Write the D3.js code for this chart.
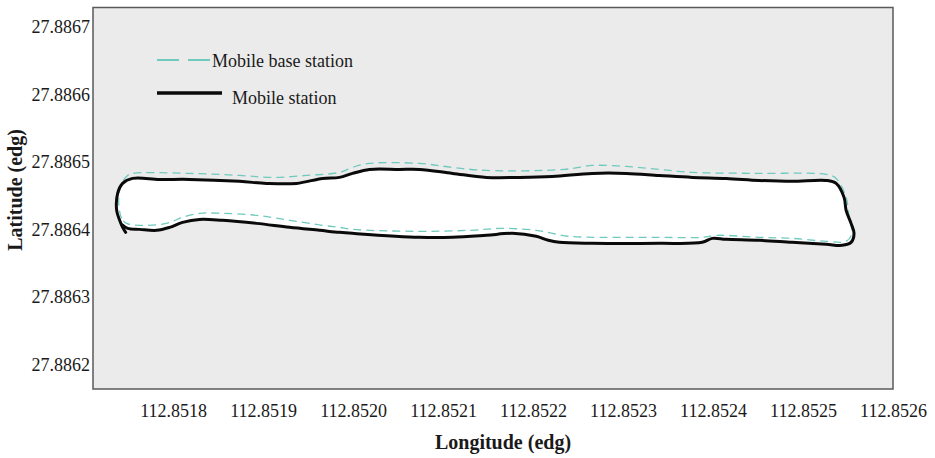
<!DOCTYPE html>
<html>
<head>
<meta charset="utf-8">
<script src="https://cdn.jsdelivr.net/npm/d3@7"></script>
<style>
  html, body { margin: 0; padding: 0; background: #ffffff; }
  svg { display: block; }
  text { font-family: "Liberation Serif", "Times New Roman", serif; fill: #1a1a1a; }
</style>
</head>
<body>
<svg id="chart" width="935" height="458"></svg>
<script>
// Track of the mobile station (solid black), in degrees
const stationLon = [
  112.8517473, 112.8517439, 112.8517406, 112.8517373, 112.8517384, 112.8517439,
  112.8517550, 112.8517850, 112.8518183, 112.8518738, 112.8519038, 112.8519371,
  112.8519660, 112.8519849, 112.8519993, 112.8520182, 112.8520515, 112.8520737,
  112.8521104, 112.8521481, 112.8521848, 112.8522214, 112.8522658, 112.8523036,
  112.8523402, 112.8523769, 112.8524146, 112.8524513, 112.8524879, 112.8525257,
  112.8525368, 112.8525456, 112.8525479, 112.8525534, 112.8525567, 112.8525534,
  112.8525434, 112.8525257, 112.8524879, 112.8524513, 112.8524146, 112.8523991,
  112.8523880, 112.8523402, 112.8522658, 112.8522292, 112.8522170, 112.8522036,
  112.8521770, 112.8521481, 112.8521104, 112.8520737, 112.8519993, 112.8519849,
  112.8519627, 112.8519294, 112.8518927, 112.8518550, 112.8518294, 112.8518105,
  112.8517961, 112.8517817, 112.8517628, 112.8517495, 112.8517428
];
const stationLat = [
  27.8863960, 27.8864034, 27.8864138, 27.8864286, 27.8864537, 27.8864685,
  27.8864759, 27.8864744, 27.8864744, 27.8864715, 27.8864685, 27.8864685,
  27.8864759, 27.8864774, 27.8864833, 27.8864892, 27.8864892, 27.8864892,
  27.8864833, 27.8864774, 27.8864774, 27.8864788, 27.8864833, 27.8864833,
  27.8864803, 27.8864774, 27.8864759, 27.8864729, 27.8864715, 27.8864729,
  27.8864685, 27.8864478, 27.8864286, 27.8864093, 27.8863945, 27.8863812,
  27.8863768, 27.8863783, 27.8863812, 27.8863842, 27.8863857, 27.8863871,
  27.8863812, 27.8863797, 27.8863797, 27.8863812, 27.8863842, 27.8863901,
  27.8863945, 27.8863916, 27.8863886, 27.8863886, 27.8863945, 27.8863960,
  27.8863990, 27.8864034, 27.8864093, 27.8864138, 27.8864152, 27.8864108,
  27.8864034, 27.8863990, 27.8864004, 27.8864019, 27.8864078
];

// Track of the mobile base station (dashed teal), closed loop
const baseLon = [
  112.8517484, 112.8517428, 112.8517395, 112.8517428, 112.8517495, 112.8517550,
  112.8518183, 112.8518738, 112.8519105, 112.8519482, 112.8519849, 112.8519993,
  112.8520182, 112.8520737, 112.8521104, 112.8521481, 112.8522347, 112.8522658,
  112.8523036, 112.8523402, 112.8523769, 112.8524513, 112.8525257, 112.8525368,
  112.8525479, 112.8525512, 112.8525545, 112.8525479, 112.8525257, 112.8524879,
  112.8524513, 112.8524035, 112.8523880, 112.8523402, 112.8522403, 112.8522214,
  112.8522036, 112.8521659, 112.8521292, 112.8520737, 112.8519993, 112.8519849,
  112.8519660, 112.8519294, 112.8518927, 112.8518550, 112.8518294, 112.8518105,
  112.8517928, 112.8517628
];
const baseLat = [
  27.8864093, 27.8864167, 27.8864433, 27.8864685, 27.8864803, 27.8864833,
  27.8864833, 27.8864803, 27.8864774, 27.8864803, 27.8864848, 27.8864922,
  27.8864981, 27.8864981, 27.8864922, 27.8864877, 27.8864892, 27.8864951,
  27.8864936, 27.8864892, 27.8864848, 27.8864833, 27.8864818, 27.8864759,
  27.8864478, 27.8864182, 27.8863945, 27.8863827, 27.8863827, 27.8863871,
  27.8863886, 27.8863916, 27.8863886, 27.8863886, 27.8863901, 27.8863945,
  27.8863990, 27.8864019, 27.8863990, 27.8863975, 27.8864004, 27.8864034,
  27.8864064, 27.8864138, 27.8864212, 27.8864241, 27.8864241, 27.8864182,
  27.8864093, 27.8864064
];

const lonTicks = [112.8518, 112.8519, 112.8520, 112.8521, 112.8522, 112.8523, 112.8524, 112.8525, 112.8526];
const latTicks = [27.8862, 27.8863, 27.8864, 27.8865, 27.8866, 27.8867];
const seriesNames = ["Mobile base station", "Mobile station"];
const xTitle = "Longitude (edg)";
const yTitle = "Latitude (edg)";

const svg = d3.select("#chart");
const margin = { left: 93, top: 7.5, right: 935 - 893, bottom: 458 - 389 };
const W = 935 - margin.left - margin.right;
const H = 458 - margin.top - margin.bottom;

const x = d3.scaleLinear().domain([112.851711, 112.8526]).range([0, W]);
const y = d3.scaleLinear().domain([27.886164, 27.886729]).range([H, 0]);

const g = svg.append("g").attr("transform", `translate(${margin.left},${margin.top})`);

// plot panel
g.append("rect").attr("width", W).attr("height", H).attr("fill", "#ebebeb");

const station = stationLon.map((d, i) => [d, stationLat[i]]);
const base = baseLon.map((d, i) => [d, baseLat[i]]);

// interior of the station loop
g.append("path")
  .attr("d", d3.line().x(d => x(d[0])).y(d => y(d[1])).curve(d3.curveCatmullRomClosed)(station.slice(1)))
  .attr("fill", "#ffffff")
  .attr("stroke", "none");

g.append("path")
  .attr("d", d3.line().x(d => x(d[0])).y(d => y(d[1])).curve(d3.curveCatmullRomClosed)(base))
  .attr("fill", "none")
  .attr("stroke", "#6fcabd")
  .attr("stroke-width", 1.3)
  .attr("stroke-dasharray", "8,5");

g.append("path")
  .attr("d", d3.line().x(d => x(d[0])).y(d => y(d[1])).curve(d3.curveCatmullRom)(station))
  .attr("fill", "none")
  .attr("stroke", "#0a0a0a")
  .attr("stroke-width", 3)
  .attr("stroke-linejoin", "round")
  .attr("stroke-linecap", "round");

// panel border
g.append("rect").attr("width", W).attr("height", H)
  .attr("fill", "none").attr("stroke", "#5a5a5a").attr("stroke-width", 1.5);

// axes
const fmt = d3.format(".4f");
const xAxis = g.append("g").attr("transform", `translate(0,${H})`)
  .call(d3.axisBottom(x).tickValues(lonTicks).tickFormat(fmt).tickSize(0).tickPadding(15));
const yAxis = g.append("g")
  .call(d3.axisLeft(y).tickValues(latTicks).tickFormat(fmt).tickSize(0).tickPadding(3));
[xAxis, yAxis].forEach(a => {
  a.select(".domain").remove();
  a.selectAll("text")
    .style("font-family", "'Liberation Serif', 'Times New Roman', serif")
    .style("font-size", "18px")
    .attr("fill", "#1a1a1a");
});

// axis titles
svg.append("text")
  .attr("x", 503).attr("y", 449)
  .attr("text-anchor", "middle")
  .style("font-size", "20px").style("font-weight", "bold")
  .text(xTitle);
svg.append("text")
  .attr("transform", "translate(22,190) rotate(-90)")
  .attr("text-anchor", "middle")
  .style("font-size", "20px").style("font-weight", "bold")
  .text(yTitle);

// legend
const leg = svg.append("g");
leg.append("line").attr("x1", 157).attr("x2", 211).attr("y1", 60).attr("y2", 60)
  .attr("stroke", "#6fcabd").attr("stroke-width", 2).attr("stroke-dasharray", "22,9");
leg.append("text").attr("x", 212).attr("y", 67).style("font-size", "18px").text(seriesNames[0]);
leg.append("line").attr("x1", 157).attr("x2", 222).attr("y1", 93).attr("y2", 93)
  .attr("stroke", "#0a0a0a").attr("stroke-width", 3.5);
leg.append("text").attr("x", 232).attr("y", 104).style("font-size", "18px").text(seriesNames[1]);
</script>
</body>
</html>
